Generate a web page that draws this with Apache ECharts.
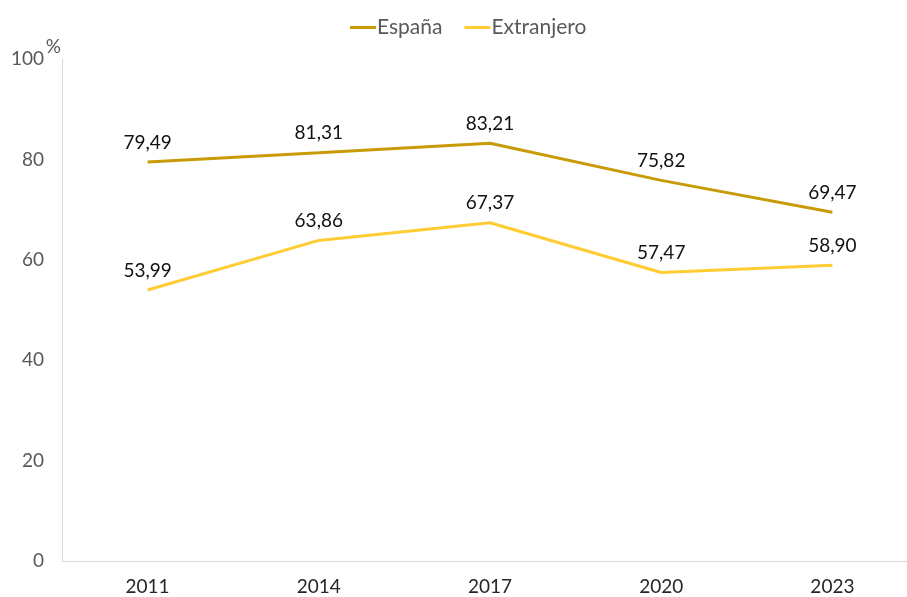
<!DOCTYPE html>
<html>
<head>
<meta charset="utf-8">
<script src="https://cdn.jsdelivr.net/npm/echarts@6/dist/echarts.min.js"></script>
<style>
  html, body { margin: 0; padding: 0; background: #fff; }
  #chart { width: 907px; height: 597px; }
</style>
</head>
<body>
<div id="chart"></div>
<script>
var years = ['2011', '2014', '2017', '2020', '2023']
var espana = [79.49, 81.31, 83.21, 75.82, 69.47]
var extranjero = [53.99, 63.86, 67.37, 57.47, 58.90]

var fontFamily = 'Lato, "DejaVu Sans", sans-serif'

function lineSeries(name, data, color) {
  return {
    type: 'line',
    name: name,
    data: data,
    symbol: 'circle',
    symbolSize: 0,
    showSymbol: true,
    lineStyle: { color: color, width: 3 },
    itemStyle: { color: color },
    label: {
      show: true,
      position: 'top',
      distance: 10,
      color: '#111',
      fontSize: 19,
      fontFamily: fontFamily,
      formatter: function(p) {
        return p.value.toFixed(2).replace('.', ',')
      }
    }
  }
}

var chart = echarts.init(document.getElementById('chart'))
chart.setOption({
  animation: false,
  textStyle: { fontFamily: fontFamily },
  legend: {
    top: 12,
    left: 345,
    itemWidth: 26,
    itemHeight: 3,
    itemGap: 22,
    icon: 'rect',
    textStyle: { color: '#595959', fontSize: 21, fontFamily: fontFamily, padding: [0, 0, 0, -4] },
    data: ['España', 'Extranjero']
  },
  grid: {
    left: 62,
    width: 856,
    top: 59,
    bottom: 36,
    outerBoundsMode: 'none'
  },
  xAxis: {
    type: 'category',
    data: years,
    boundaryGap: true,
    axisLine: { lineStyle: { color: '#d9d9d9', width: 1 } },
    axisTick: { show: false },
    axisLabel: { color: '#262626', fontSize: 19, margin: 16, fontFamily: fontFamily }
  },
  yAxis: {
    type: 'value',
    min: 0,
    max: 100,
    interval: 20,
    name: '%',
    nameLocation: 'end',
    nameGap: 3,
    nameMoveOverlap: false,
    nameTextStyle: { color: '#595959', fontSize: 19, align: 'right', padding: [0, 1, 0, 0] },
    axisLine: { show: true, lineStyle: { color: '#d9d9d9', width: 1 } },
    axisTick: { show: false },
    splitLine: { show: false },
    axisLabel: { color: '#595959', fontSize: 19, margin: 18, fontFamily: fontFamily }
  },
  series: [
    lineSeries('España', espana, '#C89B06'),
    lineSeries('Extranjero', extranjero, '#FFCD33')
  ]
})
</script>
</body>
</html>
